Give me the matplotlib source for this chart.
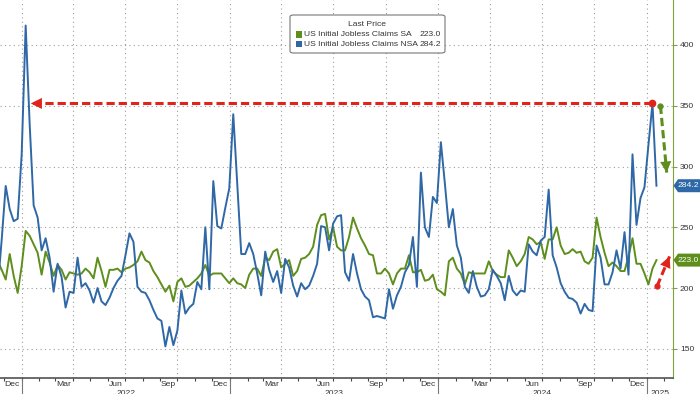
import matplotlib
matplotlib.use("Agg")
import matplotlib.dates as mdates
import matplotlib.pyplot as plt
import pandas as pd
from matplotlib.patches import FancyBboxPatch, Polygon, Rectangle
from matplotlib.transforms import blended_transform_factory

plt.rcParams["font.family"] = ["Liberation Sans", "DejaVu Sans"]

# weekly observations (week ending Saturday), thousands
WEEKS = pd.date_range("2021-11-20", "2025-01-18", freq="W-SAT")

SA_2021 = [222, 215, 207, 228, 210, 196]
SA_2022 = [218, 247, 243, 236, 229, 211, 230, 221, 210, 219, 215, 207, 213,
           212, 211, 212, 216, 213, 208, 225, 214, 201, 215, 215, 216, 213,
           216, 217, 219, 222, 230, 223, 221, 214, 209, 203, 197, 202, 189,
           205, 208, 201, 202, 205, 208, 212, 219, 210, 212, 212, 212, 208, 204]
SA_2023 = [208, 204, 203, 200, 211, 216, 216, 210, 225, 223, 230, 232, 217,
           220, 223, 210, 214, 224, 225, 228, 234, 252, 260, 261, 240, 250,
           234, 231, 231, 242, 258, 249, 241, 235, 228, 227, 212, 212, 216,
           212, 203, 212, 216, 216, 227, 213, 213, 215, 206, 207, 211, 199]
SA_2024 = [197, 194, 222, 225, 216, 212, 203, 213, 212, 212, 212, 212, 222,
           214, 211, 209, 209, 231, 225, 218, 222, 228, 242, 240, 236, 238,
           224, 240, 240, 250, 235, 228, 229, 232, 229, 230, 222, 220, 225,
           258, 242, 229, 218, 221, 218, 214, 214, 226, 241, 220, 220, 212]
SA_2025 = [203, 216, 223.0]

NSA_2021 = [200, 240, 284, 265, 255, 257]
NSA_2022 = [310, 416, 335, 268, 258, 231, 241, 225, 197, 220, 209, 184, 197,
            196, 225, 201, 204, 198, 188, 200, 189, 186, 192, 200, 206, 210,
            227, 245, 238, 201, 197, 196, 190, 182, 175, 173, 152, 168, 153,
            165, 198, 179, 184, 187, 205, 199, 250, 199, 288, 251, 249, 266, 282]
NSA_2023 = [343, 285, 228, 228, 237, 228, 212, 194, 230, 215, 205, 214, 196,
            224, 217, 202, 193, 204, 199, 202, 210, 220, 251, 250, 231, 253,
            259, 260, 213, 206, 228, 212, 199, 193, 190, 176, 177, 176, 175,
            199, 183, 194, 201, 213, 219, 242, 201, 295, 250, 242, 275, 270]
NSA_2024 = [320, 286, 250, 265, 235, 225, 201, 196, 214, 201, 193, 194, 199,
            215, 210, 204, 190, 210, 198, 194, 198, 197, 236, 230, 227, 239,
            242, 281, 227, 217, 204, 197, 192, 191, 188, 179, 187, 182, 181,
            235, 225, 203, 203, 213, 231, 216, 246, 211, 310, 252, 274, 283]
NSA_2025 = [318, 351.9, 284.2]

SA = SA_2021 + SA_2022 + SA_2023 + SA_2024 + SA_2025
NSA = NSA_2021 + NSA_2022 + NSA_2023 + NSA_2024 + NSA_2025
assert len(SA) == len(WEEKS) == len(NSA)

SA_LABEL = "US Initial Jobless Claims SA"
NSA_LABEL = "US Initial Jobless Claims NSA"
Y_TICKS = [150, 200, 250, 300, 350, 400]
YEARS = [2022, 2023, 2024, 2025]

# annotation anchors
PEAK_DATE, PEAK_VALUE = WEEKS[-2], NSA[-2]
RED_TIP_DATE = pd.Timestamp("2022-01-17")
GREEN_FROM = (pd.Timestamp("2025-01-25"), 350)
GREEN_TO = (pd.Timestamp("2025-02-05"), 295)
RED_UP_FROM = (pd.Timestamp("2025-01-19"), 201.5)
RED_UP_TO = (pd.Timestamp("2025-02-10"), 226)

SA_COLOR = "#5e8e1c"
NSA_COLOR = "#2f68a6"
RED = "#e0241c"
GRID = "#9c9c9c"
TEXT = "#333333"
FS = 6.1
W, H = 700, 394

X_MIN, X_MAX = pd.Timestamp("2021-11-24"), pd.Timestamp("2025-02-16")


def fx(px):
    return px / W


def fy(py):
    return 1 - py / H


fig = plt.figure(figsize=(W / 100, H / 100), dpi=100)
ax = fig.add_axes([0, fy(378), fx(673), 378 / H])
ax.set_xlim(X_MIN, X_MAX)
ax.set_ylim(126, 437)

# grid
for y in Y_TICKS:
    ax.axhline(y, color=GRID, lw=0.8, ls=(0, (1, 3)), zorder=0)
for q in pd.date_range("2021-10-01", "2025-04-01", freq="QS"):
    ax.axvline(q, color=GRID, lw=0.8, ls=(0, (1, 3)), zorder=0)

ax.plot(WEEKS, SA, color=SA_COLOR, lw=1.4, zorder=3)
ax.plot(WEEKS, NSA, color=NSA_COLOR, lw=1.4, zorder=4)

# spines and ticks
for side in ("left", "top"):
    ax.spines[side].set_visible(False)
ax.spines["right"].set_color("#7fa33a")
ax.spines["bottom"].set_color("#444444")
ax.spines["bottom"].set_linewidth(1.1)

ax.yaxis.tick_right()
ax.set_yticks(Y_TICKS)
ax.tick_params(axis="y", length=3, width=0.8, color="#7fa33a", pad=2,
               labelsize=FS, labelcolor=TEXT)

ax.xaxis.set_major_locator(mdates.MonthLocator())
ax.xaxis.set_major_formatter(plt.NullFormatter())
ax.xaxis.set_minor_locator(mdates.MonthLocator(bymonth=[3, 6, 9, 12], bymonthday=15))
ax.xaxis.set_minor_formatter(mdates.DateFormatter("%b"))
ax.tick_params(axis="x", which="major", length=2.5, width=0.8, color="#444444")
ax.tick_params(axis="x", which="minor", length=0, pad=2.5, labelsize=FS,
               labelcolor=TEXT)

# year separators and labels
below = blended_transform_factory(ax.transData, ax.transAxes)
for year in YEARS:
    start = pd.Timestamp(f"{year}-01-01")
    ax.plot([start, start], [0, -0.045], transform=below, clip_on=False,
            color="#777777", lw=0.8)
    lo = max(start, X_MIN)
    hi = min(pd.Timestamp(f"{year + 1}-01-01"), X_MAX)
    ax.text(lo + (hi - lo) / 2, -0.032, str(year), transform=below,
            ha="center", va="top", fontsize=FS, color=TEXT)

# arrows
ax.plot([PEAK_DATE, RED_TIP_DATE], [PEAK_VALUE, PEAK_VALUE], color=RED, lw=2.2,
        ls=(0, (2.7, 1.3)), zorder=6, solid_capstyle="butt")
ax.annotate("", xy=(RED_TIP_DATE, PEAK_VALUE), xytext=(PEAK_DATE, PEAK_VALUE),
            arrowprops=dict(arrowstyle="-|>,head_length=0.8,head_width=0.4",
                            color=RED, lw=0, shrinkA=0, shrinkB=0), zorder=7)
ax.plot([PEAK_DATE], [PEAK_VALUE], "o", color=RED, ms=4.5, zorder=8)

ax.plot([GREEN_FROM[0], GREEN_TO[0]], [GREEN_FROM[1], GREEN_TO[1]],
        color=SA_COLOR, lw=2.2, ls=(0, (2.7, 1.3)), zorder=6)
ax.plot([GREEN_FROM[0]], [GREEN_FROM[1]], "o", color=SA_COLOR, ms=3.5, zorder=7)
ax.annotate("", xy=GREEN_TO, xytext=GREEN_FROM,
            arrowprops=dict(arrowstyle="-|>,head_length=0.8,head_width=0.4",
                            color=SA_COLOR, lw=0, shrinkA=0, shrinkB=0), zorder=7)

ax.plot([RED_UP_FROM[0], RED_UP_TO[0]], [RED_UP_FROM[1], RED_UP_TO[1]],
        color=RED, lw=2.2, ls=(0, (2.7, 1.3)), zorder=6)
ax.plot([RED_UP_FROM[0]], [RED_UP_FROM[1]], "o", color=RED, ms=3.5, zorder=7)
ax.annotate("", xy=RED_UP_TO, xytext=RED_UP_FROM,
            arrowprops=dict(arrowstyle="-|>,head_length=0.8,head_width=0.4",
                            color=RED, lw=0, shrinkA=0, shrinkB=0), zorder=7)

# last-price tags on the right axis
tag_tr = blended_transform_factory(fig.transFigure, ax.transData)
half = 6.5 / (378 / (437 - 126))
for value, color in ((NSA[-1], NSA_COLOR), (SA[-1], SA_COLOR)):
    pts = [(fx(673.5), value), (fx(678), value + half), (1, value + half),
           (1, value - half), (fx(678), value - half)]
    fig.add_artist(Polygon(pts, closed=True, transform=tag_tr, facecolor=color,
                           edgecolor="none"))
    fig.text(fx(678), value, f"{value:.1f}", transform=tag_tr, ha="left",
             va="center", color="white", fontsize=FS)

# legend box
fig.add_artist(FancyBboxPatch((fx(290), fy(53)), fx(445) - fx(290), fy(15) - fy(53),
                              boxstyle="round,pad=0,rounding_size=0.005",
                              transform=fig.transFigure, facecolor="white",
                              edgecolor="#777777", lw=0.8, zorder=10))
fig.text(fx(367), fy(25), "Last Price", ha="center", va="center", fontsize=FS,
         color=TEXT, zorder=11)
for row_y, label, value, color in ((34.5, SA_LABEL, SA[-1], SA_COLOR),
                                   (44, NSA_LABEL, NSA[-1], NSA_COLOR)):
    fig.add_artist(Rectangle((fx(295.5), fy(row_y + 3)), fx(6), 6 / H,
                             transform=fig.transFigure, facecolor=color,
                             edgecolor="none", zorder=11))
    fig.text(fx(304), fy(row_y), label, ha="left", va="center", fontsize=FS,
             color=TEXT, zorder=11)
    fig.text(fx(441), fy(row_y), f"{value:.1f}", ha="right", va="center",
             fontsize=FS, color=TEXT, zorder=11)

fig.savefig("out.png", dpi=100)
